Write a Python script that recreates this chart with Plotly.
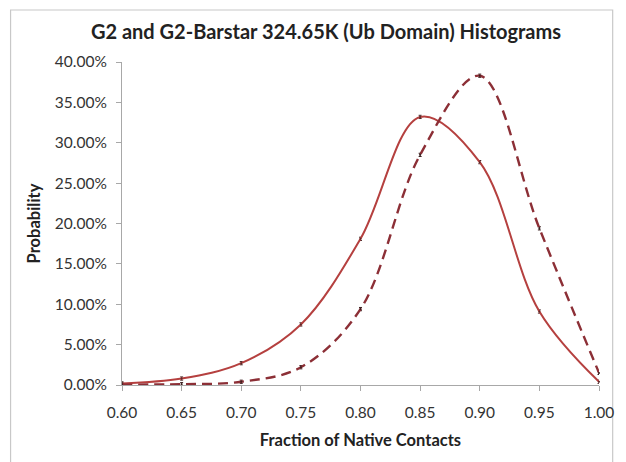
import plotly.graph_objects as go

# Fraction of native contacts (bin centres) and histogram probabilities (%)
fraction = [0.60, 0.65, 0.70, 0.75, 0.80, 0.85, 0.90, 0.95, 1.00]
g2_prob = [0.2, 0.8, 2.7, 7.5, 18.1, 33.2, 27.6, 9.1, 0.4]
g2_barstar_prob = [0.05, 0.1, 0.4, 2.2, 9.4, 28.5, 38.3, 19.4, 1.5]
err = [0.2] * len(fraction)

y_ticks = [i * 0.05 for i in range(9)]

solid_col = "#B5403F"
dash_col = "#8C2F36"
font_fam = "Lato, 'Open Sans', sans-serif"

fig = go.Figure()

fig.add_trace(go.Scatter(
    x=fraction, y=[v / 100 for v in g2_prob],
    mode="lines+markers", name="G2",
    line=dict(color=solid_col, width=2, shape="spline", smoothing=1.0),
    marker=dict(size=2, color="#5a2a2a"),
    error_y=dict(type="data", array=[e / 100 for e in err], width=1.5, thickness=1, color="#4a2a2a"),
    cliponaxis=False,
))
fig.add_trace(go.Scatter(
    x=fraction, y=[v / 100 for v in g2_barstar_prob],
    mode="lines+markers", name="G2-Barstar",
    line=dict(color=dash_col, width=2.4, dash="10px,6px", shape="spline", smoothing=1.0),
    marker=dict(size=2, color="#3a2020"),
    error_y=dict(type="data", array=[e / 100 for e in err], width=1.5, thickness=1, color="#3a2020"),
    cliponaxis=False,
))

# outer chart border
px_w, px_h = 488.0, 323.0
fig.add_shape(type="rect", xref="paper", yref="paper",
              x0=(8 - 122) / px_w, x1=(624 - 122) / px_w,
              y0=(385 - 470) / px_h, y1=(385 - 10) / px_h,
              line=dict(color="#C8C8C8", width=1.2), layer="below")

fig.update_layout(
    width=626, height=462,
    margin=dict(l=122, r=16, t=62, b=77),
    paper_bgcolor="white", plot_bgcolor="white",
    showlegend=False,
    font=dict(family=font_fam, color="#333333", size=15),
    title=dict(text="<b>G2 and G2-Barstar 324.65K (Ub Domain) Histograms</b>",
               x=326 / 626, xanchor="center", y=1 - 32 / 462, yanchor="middle",
               font=dict(family=font_fam, size=20, color="#222222")),
    xaxis=dict(range=[0.6, 1.0], tickvals=fraction, tickformat=".2f",
               showgrid=False, zeroline=False,
               showline=True, linecolor="#A8A8A8", linewidth=1,
               ticks="outside", ticklen=5, tickcolor="#A8A8A8",
               ticklabelstandoff=8,
               tickfont=dict(size=15.5, color="#333333"),
               title=dict(text="<b>Fraction of Native Contacts</b>", standoff=14,
                          font=dict(size=16.5, color="#222222"))),
    yaxis=dict(range=[0, 0.40], tickvals=y_ticks, tickformat=".2%",
               showgrid=False, zeroline=False,
               showline=True, linecolor="#A8A8A8", linewidth=1,
               ticks="outside", ticklen=5, tickcolor="#A8A8A8",
               ticklabelstandoff=6,
               tickfont=dict(size=15.5, color="#333333"),
               title=dict(text="<b>Probability</b>", standoff=10,
                          font=dict(size=16.5, color="#222222"))),
)

fig.write_html("out.html")
